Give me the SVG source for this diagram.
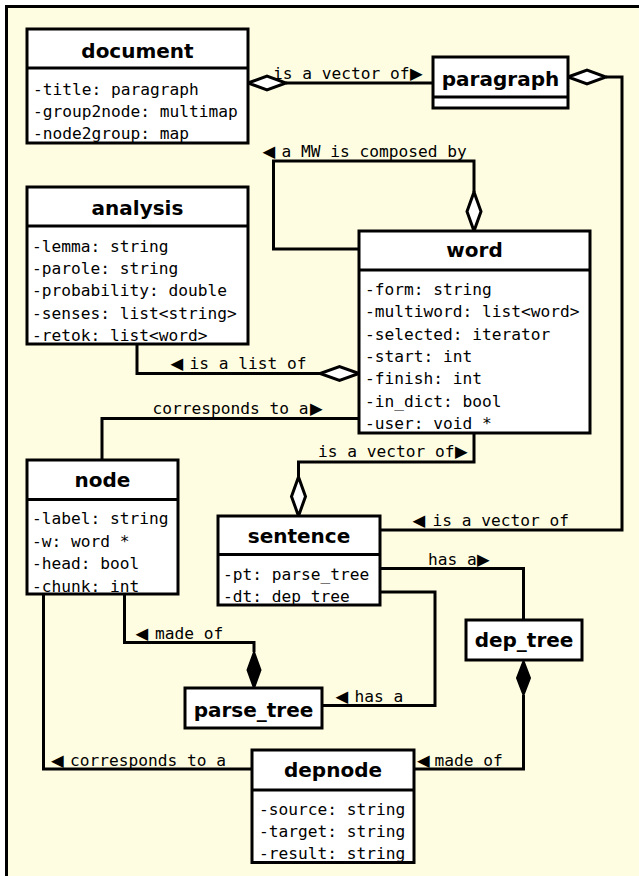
<svg xmlns="http://www.w3.org/2000/svg" width="639" height="876" viewBox="0 0 639 876">
<style>
.bg{fill:#fffde1;stroke:#000;stroke-width:3}
.bf{fill:#fff;stroke:none}
.bo{fill:none;stroke:#000;stroke-width:3}
.sep{stroke:#000;stroke-width:3}
.title{font-family:"DejaVu Sans",sans-serif;font-weight:bold;font-size:20px;text-anchor:middle;fill:#000}
.attr,.lbl{font-family:"DejaVu Sans Mono",monospace;font-size:16.2px;fill:#000}
.tri{font-family:"DejaVu Sans",sans-serif;font-size:16.5px}
.conn{fill:none;stroke:#000;stroke-width:3}
.hd{fill:#fff;stroke:#000;stroke-width:3;stroke-linejoin:miter}
.fd{fill:#000;stroke:#000;stroke-width:2}
</style>
<rect x="0" y="0" width="639" height="876" fill="#fff"/>
<rect class="bg" x="6.5" y="6.5" width="700" height="900"/>

<g id="connectors">
  <!-- document - paragraph -->
  <path class="conn" d="M286 83 H433"/>
  <path class="hd" d="M248 83 L267 76 L286 83 L267 90 Z"/>
  <text class="lbl" x="273" y="79">is a vector of<tspan class="tri" x="410">▶</tspan></text>
  <!-- word self (MW) -->
  <path class="conn" d="M359 249 H273.5 V161 H474 V192"/>
  <path class="hd" d="M474 231 L467 211.5 L474 192 L481 211.5 Z"/>
  <text class="lbl" y="157"><tspan class="tri" x="262.5">◀</tspan><tspan x="281.5">a MW is composed by</tspan></text>
  <!-- paragraph - sentence -->
  <path class="conn" d="M606 77 H622 V530 H380"/>
  <path class="hd" d="M568 77 L587 70 L606 77 L587 84 Z"/>
  <text class="lbl" y="525.5"><tspan class="tri" x="412.5">◀</tspan><tspan x="432.5">is a vector of</tspan></text>
  <!-- analysis - word -->
  <path class="conn" d="M137 344 V373.5 H320"/>
  <path class="hd" d="M359 373.5 L339.5 366.5 L320 373.5 L339.5 380.5 Z"/>
  <text class="lbl" y="369"><tspan class="tri" x="170.5">◀</tspan><tspan x="189.5">is a list of</tspan></text>
  <!-- word - node -->
  <path class="conn" d="M359 418.5 H102 V460"/>
  <text class="lbl" x="152.5" y="414">corresponds to a<tspan class="tri" x="310">▶</tspan></text>
  <!-- word - sentence -->
  <path class="conn" d="M474 433 V462 H298.5 V477"/>
  <path class="hd" d="M298.5 516 L291.5 496.5 L298.5 477 L305.5 496.5 Z"/>
  <text class="lbl" x="318" y="457">is a vector of<tspan class="tri" x="455">▶</tspan></text>
  <!-- sentence - dep_tree -->
  <path class="conn" d="M380 568.5 H523.5 V620"/>
  <text class="lbl" x="428" y="565">has a<tspan class="tri" x="477">▶</tspan></text>
  <!-- sentence - parse_tree -->
  <path class="conn" d="M380 592 H435 V705.5 H322"/>
  <text class="lbl" y="701.5"><tspan class="tri" x="335.5">◀</tspan><tspan x="354.5">has a</tspan></text>
  <!-- dep_tree - depnode -->
  <path class="conn" d="M523.5 695 V769 H414"/>
  <path class="fd" d="M523.5 661 L517 678 L523.5 695 L530 678 Z"/>
  <text class="lbl" y="765.5"><tspan class="tri" x="417">◀</tspan><tspan x="434.5">made of</tspan></text>
  <!-- node - parse_tree -->
  <path class="conn" d="M124.5 594 V642.5 H254 V652"/>
  <path class="fd" d="M254 652 L247.5 670 L254 688 L260.5 670 Z"/>
  <text class="lbl" y="638.5"><tspan class="tri" x="135.5">◀</tspan><tspan x="155">made of</tspan></text>
  <!-- node - depnode -->
  <path class="conn" d="M43.5 594 V769 H252"/>
  <text class="lbl" y="765.5"><tspan class="tri" x="51">◀</tspan><tspan x="70">corresponds to a</tspan></text>
</g>

<g id="document">
  <rect class="bf" x="27" y="29" width="221" height="114"/>
  <text class="title" x="137.5" y="58">document</text>
  <text class="attr" x="33" y="95">-title: paragraph</text>
  <text class="attr" x="33" y="117">-group2node: multimap</text>
  <text class="attr" x="33" y="139">-node2group: map</text>
  <line class="sep" x1="27" y1="68" x2="248" y2="68"/>
  <rect class="bo" x="27" y="29" width="221" height="114"/>
</g>

<g id="paragraph">
  <rect class="bf" x="433" y="57" width="135" height="51"/>
  <text class="title" x="500.5" y="86">paragraph</text>
  <line class="sep" x1="433" y1="97" x2="568" y2="97"/>
  <rect class="bo" x="433" y="57" width="135" height="51"/>
</g>

<g id="analysis">
  <rect class="bf" x="27" y="187" width="221" height="157"/>
  <text class="title" x="137.5" y="215">analysis</text>
  <text class="attr" x="32" y="251.5">-lemma: string</text>
  <text class="attr" x="32" y="274">-parole: string</text>
  <text class="attr" x="32" y="296">-probability: double</text>
  <text class="attr" x="32" y="318.5">-senses: list&lt;string&gt;</text>
  <text class="attr" x="32" y="340.5">-retok: list&lt;word&gt;</text>
  <line class="sep" x1="27" y1="226" x2="248" y2="226"/>
  <rect class="bo" x="27" y="187" width="221" height="157"/>
</g>

<g id="word">
  <rect class="bf" x="359" y="231" width="231" height="202"/>
  <text class="title" x="474.5" y="257">word</text>
  <text class="attr" x="365" y="295">-form: string</text>
  <text class="attr" x="365" y="317.3">-multiword: list&lt;word&gt;</text>
  <text class="attr" x="365" y="339.6">-selected: iterator</text>
  <text class="attr" x="365" y="361.9">-start: int</text>
  <text class="attr" x="365" y="384.2">-finish: int</text>
  <text class="attr" x="365" y="406.5">-in_dict: bool</text>
  <text class="attr" x="365" y="428.8">-user: void *</text>
  <line class="sep" x1="359" y1="270" x2="590" y2="270"/>
  <rect class="bo" x="359" y="231" width="231" height="202"/>
</g>

<g id="node">
  <rect class="bf" x="27" y="460" width="151" height="134"/>
  <text class="title" x="102.5" y="487">node</text>
  <text class="attr" x="32" y="524.3">-label: string</text>
  <text class="attr" x="32" y="546.7">-w: word *</text>
  <text class="attr" x="32" y="569">-head: bool</text>
  <text class="attr" x="32" y="591.5">-chunk: int</text>
  <line class="sep" x1="27" y1="499.5" x2="178" y2="499.5"/>
  <rect class="bo" x="27" y="460" width="151" height="134"/>
</g>

<g id="sentence">
  <rect class="bf" x="218" y="516" width="162" height="89"/>
  <text class="title" x="299" y="543">sentence</text>
  <text class="attr" x="223" y="580">-pt: parse_tree</text>
  <text class="attr" x="223" y="602">-dt: dep_tree</text>
  <line class="sep" x1="218" y1="554.5" x2="380" y2="554.5"/>
  <rect class="bo" x="218" y="516" width="162" height="89"/>
</g>

<g id="dep_tree">
  <rect class="bf" x="466" y="620" width="116" height="40"/>
  <text class="title" x="524" y="647">dep_tree</text>
  <rect class="bo" x="466" y="620" width="116" height="40"/>
</g>

<g id="parse_tree">
  <rect class="bf" x="185" y="688" width="137" height="40"/>
  <text class="title" x="253.5" y="716.5">parse_tree</text>
  <rect class="bo" x="185" y="688" width="137" height="40"/>
</g>

<g id="depnode">
  <rect class="bf" x="252" y="750" width="162" height="112.5"/>
  <text class="title" x="333" y="777">depnode</text>
  <text class="attr" x="259" y="815">-source: string</text>
  <text class="attr" x="259" y="837">-target: string</text>
  <text class="attr" x="259" y="858.5">-result: string</text>
  <line class="sep" x1="252" y1="790" x2="414" y2="790"/>
  <rect class="bo" x="252" y="750" width="162" height="112.5"/>
</g>
</svg>
